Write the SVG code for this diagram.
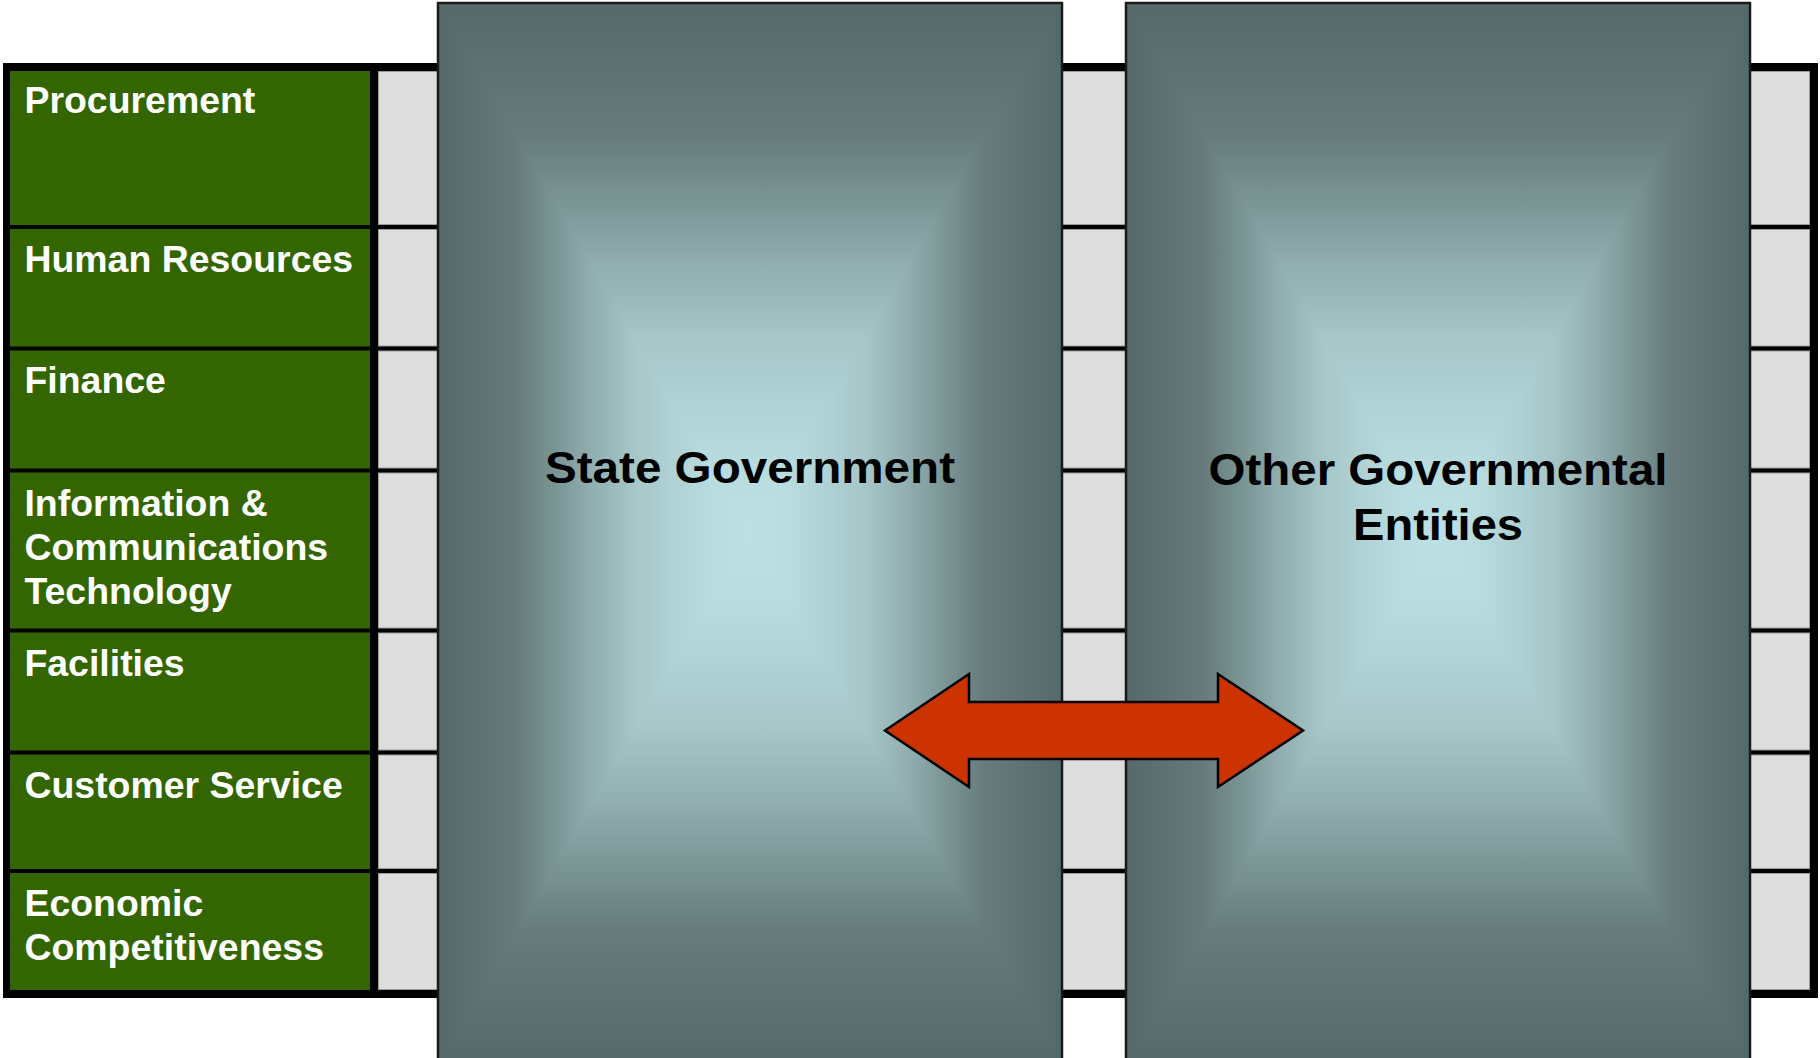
<svg xmlns="http://www.w3.org/2000/svg" width="1820" height="1058" viewBox="0 0 1820 1058">
<style>
.g{fill:#336600}
.c{fill:#DDDDDD;stroke:#9a9a9a;stroke-width:1}
.lt{font-family:"Liberation Sans",Arial,sans-serif;font-weight:bold;font-size:36px;fill:#FFFFFF}
.bt{font-family:"Liberation Sans",Arial,sans-serif;font-weight:bold;font-size:44px;fill:#000000;text-anchor:middle}
.edge{fill:none;stroke:#1a1a1a;stroke-width:2.5}
</style>
<defs>
<linearGradient id="gv" x1="0" y1="0" x2="0" y2="1">
<stop offset="0" stop-color="#566969"/>
<stop offset="0.125" stop-color="#677B7C"/>
<stop offset="0.185" stop-color="#7A9494"/>
<stop offset="0.25" stop-color="#92AFB1"/>
<stop offset="0.315" stop-color="#A6C6C8"/>
<stop offset="0.375" stop-color="#B0D2D5"/>
<stop offset="0.44" stop-color="#B8DCDF"/>
<stop offset="0.5" stop-color="#BCE1E5"/>
<stop offset="0.56" stop-color="#B8DCDF"/>
<stop offset="0.625" stop-color="#B0D2D5"/>
<stop offset="0.685" stop-color="#A6C6C8"/>
<stop offset="0.75" stop-color="#92AFB1"/>
<stop offset="0.815" stop-color="#7A9494"/>
<stop offset="0.875" stop-color="#677B7C"/>
<stop offset="1" stop-color="#566969"/>
</linearGradient>
<linearGradient id="gl" x1="0" y1="0" x2="1" y2="0">
<stop offset="0" stop-color="#566969"/>
<stop offset="0.25" stop-color="#677B7C"/>
<stop offset="0.37" stop-color="#7A9494"/>
<stop offset="0.5" stop-color="#92AFB1"/>
<stop offset="0.63" stop-color="#A6C6C8"/>
<stop offset="0.75" stop-color="#B0D2D5"/>
<stop offset="0.88" stop-color="#B8DCDF"/>
<stop offset="1" stop-color="#BCE1E5"/>
</linearGradient>
<linearGradient id="gr" x1="1" y1="0" x2="0" y2="0">
<stop offset="0" stop-color="#566969"/>
<stop offset="0.25" stop-color="#677B7C"/>
<stop offset="0.37" stop-color="#7A9494"/>
<stop offset="0.5" stop-color="#92AFB1"/>
<stop offset="0.63" stop-color="#A6C6C8"/>
<stop offset="0.75" stop-color="#B0D2D5"/>
<stop offset="0.88" stop-color="#B8DCDF"/>
<stop offset="1" stop-color="#BCE1E5"/>
</linearGradient>
</defs>
<rect width="1820" height="1058" fill="#FFFFFF"/>
<g id="frame">
<rect x="3" y="63" width="1815" height="935" fill="#000000"/>
</g>
<g id="rows">
<g id="row-procurement"><rect class="g" x="10" y="71" width="360" height="154"/><rect class="c" x="378.5" y="71.5" width="1431" height="153"/></g>
<g id="row-hr"><rect class="g" x="10" y="229" width="360" height="117.5"/><rect class="c" x="378.5" y="229.5" width="1431" height="116.5"/></g>
<g id="row-finance"><rect class="g" x="10" y="350.5" width="360" height="118"/><rect class="c" x="378.5" y="351" width="1431" height="117"/></g>
<g id="row-ict"><rect class="g" x="10" y="472.5" width="360" height="156"/><rect class="c" x="378.5" y="473" width="1431" height="155"/></g>
<g id="row-facilities"><rect class="g" x="10" y="632.5" width="360" height="118"/><rect class="c" x="378.5" y="633" width="1431" height="117"/></g>
<g id="row-customer"><rect class="g" x="10" y="754.5" width="360" height="114.5"/><rect class="c" x="378.5" y="755" width="1431" height="113.5"/></g>
<g id="row-economic"><rect class="g" x="10" y="873" width="360" height="117"/><rect class="c" x="378.5" y="873.5" width="1431" height="116"/></g>
<g transform="scale(1.04 1)">
<text class="lt" x="23.5" y="113">Procurement</text>
<text class="lt" x="23.5" y="272">Human Resources</text>
<text class="lt" x="23.5" y="393.5">Finance</text>
<text class="lt" x="23.5" y="516">Information &amp;</text>
<text class="lt" x="23.5" y="560">Communications</text>
<text class="lt" x="23.5" y="604">Technology</text>
<text class="lt" x="23.5" y="676.5">Facilities</text>
<text class="lt" x="23.5" y="798">Customer Service</text>
<text class="lt" x="23.5" y="916.5">Economic</text>
<text class="lt" x="23.5" y="960.5">Competitiveness</text>
</g>
</g>
<g id="state-government">
<rect x="438" y="3" width="624" height="1062" fill="url(#gv)"/>
<polygon points="438,3 750,534 438,1065" fill="url(#gl)"/>
<polygon points="1062,3 750,534 1062,1065" fill="url(#gr)"/>
<rect class="edge" x="438" y="3" width="624" height="1062"/>
<text class="bt" x="750" y="483" textLength="410" lengthAdjust="spacingAndGlyphs">State Government</text>
</g>
<g id="other-governmental-entities">
<rect x="1126" y="3" width="624" height="1062" fill="url(#gv)"/>
<polygon points="1126,3 1438,534 1126,1065" fill="url(#gl)"/>
<polygon points="1750,3 1438,534 1750,1065" fill="url(#gr)"/>
<rect class="edge" x="1126" y="3" width="624" height="1062"/>
<text class="bt" x="1438" y="485" textLength="459" lengthAdjust="spacingAndGlyphs">Other Governmental</text>
<text class="bt" x="1438" y="540" textLength="170" lengthAdjust="spacingAndGlyphs">Entities</text>
</g>
<g id="connectors">
<polygon points="885,730.5 969,674 969,702 1218,702 1218,674 1303,730.5 1218,787 1218,759 969,759 969,787" fill="#CC3300" stroke="#000000" stroke-width="2.5" stroke-linejoin="miter"/>
</g>
</svg>
